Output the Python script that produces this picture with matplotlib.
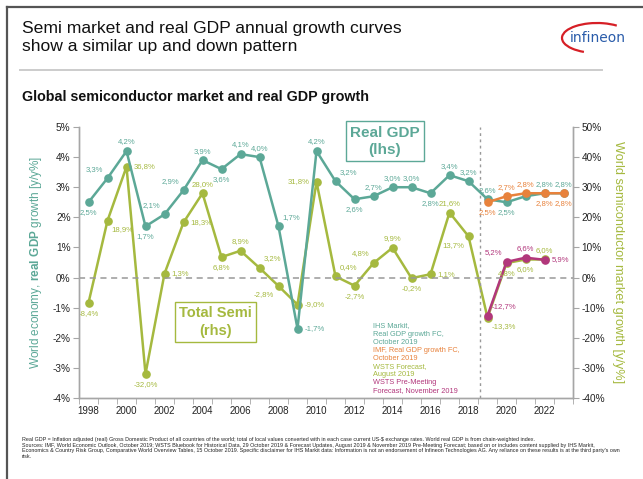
import matplotlib
matplotlib.use("Agg")
import matplotlib.pyplot as plt
from matplotlib.patches import Arc
from matplotlib.lines import Line2D

plt.rcParams['font.family'] = ['Liberation Sans', 'DejaVu Sans']
plt.rcParams['mathtext.fontset'] = 'custom'
plt.rcParams['mathtext.rm'] = 'Liberation Sans'
plt.rcParams['mathtext.bf'] = 'Liberation Sans:bold'

# ---- data ----
years = list(range(1998, 2024))
gdp_ihs = [2.5, 3.3, 4.2, 1.7, 2.1, 2.9, 3.9, 3.6, 4.1, 4.0, 1.7, -1.7, 4.2,
           3.2, 2.6, 2.7, 3.0, 3.0, 2.8, 3.4, 3.2, 2.6, 2.5, 2.7, 2.8, 2.8]
gdp_ihs_labeled = [True] * 23 + [False, True, True]

imf_years = [2019, 2020, 2021, 2022, 2023]
gdp_imf = [2.5, 2.7, 2.8, 2.8, 2.8]

semi_years = list(range(1998, 2023))
semi_wsts = [-8.4, 18.9, 36.8, -32.0, 1.3, 18.3, 28.0, 6.8, 8.9, 3.2, -2.8, -9.0,
             31.8, 0.4, -2.7, 4.8, 9.9, -0.2, 1.1, 21.6, 13.7, -13.3, 4.8, 6.0, 6.0]

nov_years = [2019, 2020, 2021, 2022]
semi_nov = [-12.7, 5.2, 6.6, 5.9]

# label placement for each point
pos_ihs = ['b', 'al', 'a', 'b', 'al', 'al', 'a', 'b', 'a', 'a', 'ar', 'r', 'a',
           'ar', 'b', 'a', 'a', 'a', 'b', 'a', 'a', 'a', 'b', 'a', 'a', 'a']
pos_imf = ['b', 'a', 'a', 'b', 'b']
pos_semi = ['b', 'br', 'r', 'b', 'r', 'r', 'a', 'b', 'a', 'ar', 'bl', 'r', 'l',
            'ar', 'b', 'al', 'a', 'b', 'r', 'a', 'bl', 'br', 'b', 'b', 'a']
pos_nov = ['ar', 'al', 'a', 'r']

C_TEAL = '#5ca897'
C_OLIVE = '#a5b93f'
C_ORANGE = '#e8823c'
C_PURPLE = '#b2377c'
C_AXIS = '#a6a6a6'

OFFS = {
    'a': ((0, 4), 'center', 'bottom'),
    'b': ((0, -5), 'center', 'top'),
    'l': ((-5, 0), 'right', 'center'),
    'r': ((5, 0), 'left', 'center'),
    'al': ((-3, 4), 'right', 'bottom'),
    'ar': ((3, 4), 'left', 'bottom'),
    'bl': ((-3, -4), 'right', 'top'),
    'br': ((3, -4), 'left', 'top'),
}


def fmt(v):
    return f"{v:.1f}%".replace('.', ',')


def label_points(axis, xs, ys, places, color, show=None):
    for i, (x, y, p) in enumerate(zip(xs, ys, places)):
        if show is not None and not show[i]:
            continue
        off, ha, va = OFFS[p]
        axis.annotate(fmt(y), (x, y), xytext=off, textcoords='offset points',
                      ha=ha, va=va, fontsize=5.6, color=color, zorder=10)


fig = plt.figure(figsize=(6.43, 4.79), dpi=100)
W, H = 643, 479

ax = fig.add_axes([79 / W, 1 - 398 / H, (573 - 79) / W, (398 - 127) / H])
ax2 = ax.twinx()
ax.set_zorder(ax2.get_zorder() + 1)
ax.patch.set_visible(False)

ax.set_xlim(1997.5, 2023.5)
ax.set_ylim(-4, 5)
ax2.set_ylim(-40, 50)

# zero line and forecast separator
ax.axhline(0, color='#999999', lw=1.1, ls=(0, (4, 3)), zorder=1)
ax.axvline(2018.6, color='#999999', lw=1.0, ls=(0, (2, 2.5)), zorder=1)

mk = dict(marker='o', markersize=5.2, lw=1.8)
ax2.plot(semi_years, semi_wsts, color=C_OLIVE, zorder=3, **mk)
ax2.plot(nov_years, semi_nov, color=C_PURPLE, zorder=4, **mk)
ax.plot(years, gdp_ihs, color=C_TEAL, zorder=3, **mk)
ax.plot(imf_years, gdp_imf, color=C_ORANGE, zorder=4, **mk)

label_points(ax, years, gdp_ihs, pos_ihs, C_TEAL, gdp_ihs_labeled)
label_points(ax, imf_years, gdp_imf, pos_imf, C_ORANGE)
label_points(ax2, semi_years, semi_wsts, pos_semi, C_OLIVE)
label_points(ax2, nov_years, semi_nov, pos_nov, C_PURPLE)

# axes styling
for a in (ax, ax2):
    a.spines['top'].set_visible(False)
    for s in ('left', 'right', 'bottom'):
        a.spines[s].set_color(C_AXIS)
        a.spines[s].set_linewidth(1.0)

ax.set_yticks(range(-4, 6))
ax.set_yticklabels([f"{v}%" for v in range(-4, 6)])
ax2.set_yticks(range(-40, 51, 10))
ax2.set_yticklabels([f"{v}%" for v in range(-40, 51, 10)])
for a in (ax, ax2):
    a.tick_params(axis='y', length=4, color=C_AXIS, labelsize=7.2, pad=2,
                  labelcolor='#222222')

ax.set_xticks(range(1998, 2024, 2))
ax.set_xticklabels([str(y) for y in range(1998, 2024, 2)])
ax.set_xticks([y + 0.5 for y in range(1997, 2024)], minor=True)
ax.tick_params(axis='x', which='major', length=0, labelsize=7, pad=6, labelcolor='#222222')
ax.tick_params(axis='x', which='minor', length=4, color=C_AXIS)

ax.set_ylabel(r"World economy, $\mathbf{real\ GDP}$ growth [y/y%]",
              color=C_TEAL, fontsize=8.5, labelpad=6)
ax2.set_ylabel("World semiconductor market growth [y/y%]", color=C_OLIVE,
               fontsize=9.2, rotation=-90, labelpad=14)

# series boxes
ax.text(2013.6, 4.53, "Real GDP\n(lhs)", color=C_TEAL, fontsize=11,
        fontweight='bold', ha='center', va='center', linespacing=1.3,
        bbox=dict(boxstyle='square,pad=0.3', fc='white', ec=C_TEAL, lw=1.0),
        zorder=6)
ax.text(2004.7, -1.47, "Total Semi\n(rhs)", color=C_OLIVE, fontsize=10.5,
        fontweight='bold', ha='center', va='center', linespacing=1.35,
        bbox=dict(boxstyle='square,pad=0.28', fc='white', ec=C_OLIVE, lw=1.0),
        zorder=6)

# source notes, one line at a time
notes = [("IHS Markit,", C_TEAL), ("Real GDP growth FC,", C_TEAL), ("October 2019", C_TEAL),
         ("IMF, Real GDP growth FC,", C_ORANGE), ("October 2019", C_ORANGE),
         ("WSTS Forecast,", C_OLIVE), ("August 2019", C_OLIVE),
         ("WSTS Pre-Meeting", C_PURPLE), ("Forecast, November 2019", C_PURPLE)]
for i, (txt, col) in enumerate(notes):
    fig.text(373 / W, 1 - (326 + 8.05 * i) / H, txt, color=col, fontsize=5.3,
             va='center', ha='left')

# headings
fig.text(22 / W, 1 - 21 / H,
         "Semi market and real GDP annual growth curves\nshow a similar up and down pattern",
         fontsize=12.6, ha='left', va='top', color='#111111', linespacing=1.22)
fig.text(22 / W, 1 - 97 / H, "Global semiconductor market and real GDP growth",
         fontsize=10.3, fontweight='bold', ha='left', va='center', color='#111111')

# logo
fig.text(598 / W, 1 - 38 / H, "infineon", fontsize=10, color='#2a5caa',
         ha='center', va='center', family='Liberation Sans Narrow')
fig.add_artist(Arc((597 / W, 1 - 38 / H), 70 / W, 30 / H, theta1=40, theta2=235,
                   color='#d61f26', lw=1.6, transform=fig.transFigure))

# frame and separator
fig.add_artist(Line2D([7 / W, 7 / W], [0, 1 - 7 / H], color='#555555', lw=1.6,
                      transform=fig.transFigure))
fig.add_artist(Line2D([7 / W, 1], [1 - 7 / H, 1 - 7 / H], color='#555555', lw=1.6,
                      transform=fig.transFigure))
fig.add_artist(Line2D([20 / W, 602 / W], [1 - 70 / H, 1 - 70 / H], color='#cccccc',
                      lw=1.4, transform=fig.transFigure))

# footnote
foot = ("Real GDP = Inflation adjusted (real) Gross Domestic Product of all countries of the world; total of local values converted with in each case current US-$ exchange rates. World real GDP is from chain-weighted index.\n"
        "Sources: IMF, World Economic Outlook, October 2019; WSTS Bluebook for Historical Data, 29 October 2019 & Forecast Updates, August 2019 & November 2019 Pre-Meeting Forecast; based on or includes content supplied by IHS Markit,\n"
        "Economics & Country Risk Group, Comparative World Overview Tables, 15 October 2019. Specific disclaimer for IHS Markit data: Information is not an endorsement of Infineon Technologies AG. Any reliance on these results is at the third party's own\n"
        "risk.")
fig.text(22 / W, 1 - 437 / H, foot, fontsize=3.9, ha='left', va='top',
         color='#222222', linespacing=1.15)

fig.savefig("out.png", dpi=100)
